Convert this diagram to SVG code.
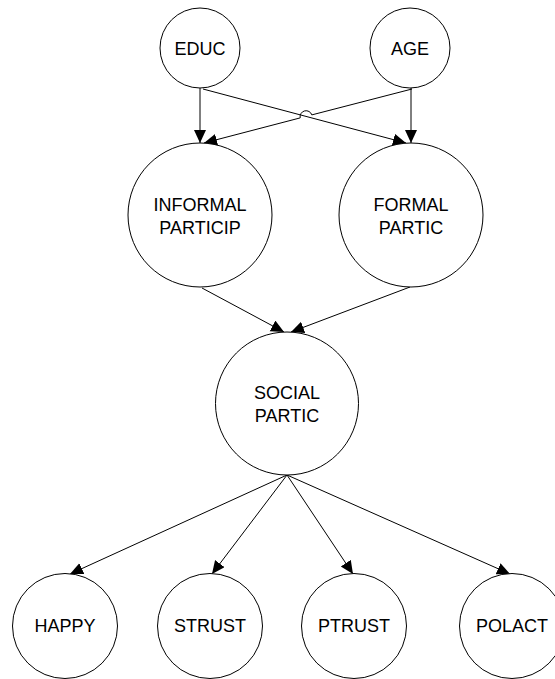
<svg xmlns="http://www.w3.org/2000/svg" width="555" height="679" viewBox="0 0 555 679">
<style>
.n{fill:#fff;stroke:#000;stroke-width:1}
.t{font-family:"Liberation Sans",Arial,sans-serif;font-size:18px;fill:#000;text-anchor:middle}
.e{fill:none;stroke:#000;stroke-width:1}
</style>
<defs>
<marker id="a" markerUnits="userSpaceOnUse" markerWidth="14" markerHeight="13" refX="13" refY="6" orient="auto">
<path d="M0,0 L13,6 L0,12 z" fill="#000"/>
</marker>
</defs>
<rect width="555" height="679" fill="#fff"/>
<g id="edges">
<path class="e" d="M200,88 L200,143" marker-end="url(#a)"/>
<path class="e" d="M411,88 L411,143" marker-end="url(#a)"/>
<path class="e" d="M203,89 L406,143" marker-end="url(#a)"/>
<path class="e" d="M412,89 L311.8,114.9 A6,6 0 0 0 300.2,117.9 L204,143" marker-end="url(#a)"/>
<path class="e" d="M202,288 L284,332" marker-end="url(#a)"/>
<path class="e" d="M410,287 L291,332" marker-end="url(#a)"/>
<path class="e" d="M287,475 L70,574" marker-end="url(#a)"/>
<path class="e" d="M287,475 L212,574" marker-end="url(#a)"/>
<path class="e" d="M287,475 L353,574" marker-end="url(#a)"/>
<path class="e" d="M287,475 L510,574" marker-end="url(#a)"/>
</g>
<g id="EDUC"><circle class="n" cx="200" cy="48" r="40"/><text class="t" x="200" y="54.5">EDUC</text></g>
<g id="AGE"><circle class="n" cx="410" cy="48" r="40"/><text class="t" x="410" y="54.5">AGE</text></g>
<g id="INFORMAL"><circle class="n" cx="200" cy="215" r="72"/><text class="t" x="200" y="210.5">INFORMAL</text><text class="t" x="200" y="233.5">PARTICIP</text></g>
<g id="FORMAL"><circle class="n" cx="411" cy="215" r="72"/><text class="t" x="411" y="210.5">FORMAL</text><text class="t" x="411" y="233.5">PARTIC</text></g>
<g id="SOCIAL"><circle class="n" cx="287" cy="403.5" r="71.5"/><text class="t" x="287" y="399">SOCIAL</text><text class="t" x="287" y="422">PARTIC</text></g>
<g id="HAPPY"><circle class="n" cx="65" cy="626" r="52.5"/><text class="t" x="65" y="632">HAPPY</text></g>
<g id="STRUST"><circle class="n" cx="210" cy="626" r="52.5"/><text class="t" x="210" y="632">STRUST</text></g>
<g id="PTRUST"><circle class="n" cx="354" cy="626" r="52.5"/><text class="t" x="354" y="632">PTRUST</text></g>
<g id="POLACT"><circle class="n" cx="512" cy="626" r="52.5"/><text class="t" x="512" y="632">POLACT</text></g>
</svg>
